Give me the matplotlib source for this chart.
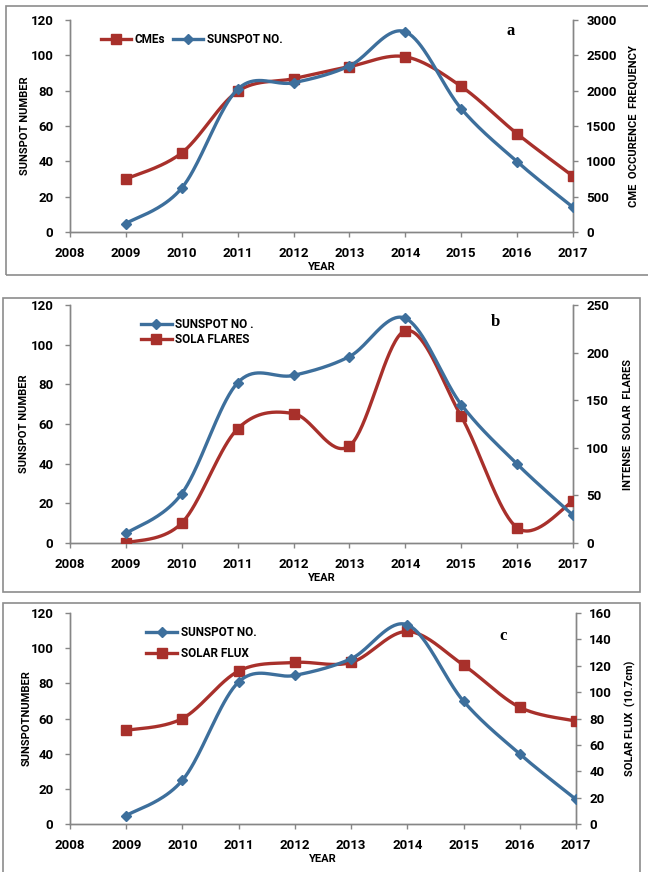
import numpy as np
import matplotlib
matplotlib.use('Agg')
import matplotlib.pyplot as plt
from matplotlib.lines import Line2D
from matplotlib.patches import Rectangle

# Jahreswerte
years = [2009, 2010, 2011, 2012, 2013, 2014, 2015, 2016, 2017]
sunspot = [4.8, 24.9, 80.8, 84.5, 94.0, 113.3, 69.8, 39.8, 14.0]
cmes = [750, 1120, 1990, 2170, 2340, 2480, 2060, 1390, 790]
flares = [0, 21, 120, 136, 102, 223, 133, 16, 44]
flux = [71, 80, 116, 122.5, 122.5, 146, 120.5, 88.5, 78]

year_ticks = list(range(2008, 2018))

W, H = 648, 872
BLUE = '#3d6f9c'
RED = '#a8302b'
GRAY = '#868686'
FONT = 'Roboto'

plt.rcParams['font.family'] = FONT
plt.rcParams['font.weight'] = 'bold'
plt.rcParams['axes.labelweight'] = 'bold'


def smooth(x, y, n=40):
    # geglättete Linie wie bei Excel (Catmull-Rom als Bezier)
    x = np.asarray(x, float)
    y = np.asarray(y, float)
    px = np.concatenate([[x[0]], x, [x[-1]]])
    py = np.concatenate([[y[0]], y, [y[-1]]])
    t = np.linspace(0, 1, n)[:, None]
    out = []
    for i in range(len(x) - 1):
        p0 = np.array([px[i], py[i]])
        p1 = np.array([px[i + 1], py[i + 1]])
        p2 = np.array([px[i + 2], py[i + 2]])
        p3 = np.array([px[i + 3], py[i + 3]])
        c1 = p1 + (p2 - p0) / 6
        c2 = p2 - (p3 - p1) / 6
        seg = ((1 - t) ** 3) * p1 + 3 * ((1 - t) ** 2) * t * c1 + 3 * (1 - t) * t ** 2 * c2 + t ** 3 * p2
        out.append(seg)
    pts = np.vstack(out)
    return pts[:, 0], pts[:, 1]


def fig_box(x0, y0, x1, y1):
    # Pixelangaben (oben links) in Figure-Koordinaten
    return [x0 / W, 1 - y1 / H, (x1 - x0) / W, (y1 - y0) / H]


def style_axis(ax):
    ax.spines['top'].set_visible(False)
    for s in ['left', 'right', 'bottom']:
        ax.spines[s].set_color(GRAY)
        ax.spines[s].set_linewidth(1)
    ax.tick_params(colors=GRAY, labelcolor='black', length=3.5, width=1,
                   labelsize=9.5, direction='out')
    for lab in ax.get_xticklabels() + ax.get_yticklabels():
        lab.set_fontweight('bold')


def draw_series(ax, y, color, marker, ms, zorder):
    sx, sy = smooth(years, y)
    ax.plot(sx, sy, color=color, lw=2.4, zorder=zorder, solid_capstyle='round')
    ax.plot(years, y, linestyle='none', marker=marker, color=color, ms=ms,
            zorder=zorder + 1)


def panel(box, y2, y2max, y2step, y2label, color2, marker2, ms2, letter, letter_xy,
          left_label, left_x, right_x):
    ax = fig.add_axes(fig_box(*box))
    ax.patch.set_alpha(0)
    ax.set_xlim(2008, 2017)
    ax.set_ylim(0, 120)
    ax.set_xticks(year_ticks)
    ax.set_yticks(range(0, 121, 20))
    style_axis(ax)
    ax.tick_params(axis='x', pad=7)
    ax.tick_params(axis='y', pad=8.5)
    ax.set_xlabel('YEAR', fontsize=8, labelpad=2, fontweight='bold')
    width = box[2] - box[0]
    lab = ax.set_ylabel(left_label, fontsize=8, fontweight='bold', va='center')
    ax.yaxis.set_label_coords((left_x - box[0]) / width, 0.5)

    ax2 = ax.twinx()
    ax2.set_ylim(0, y2max)
    ax2.set_yticks(np.arange(0, y2max + 1, y2step))
    style_axis(ax2)
    ax2.tick_params(axis='y', pad=6)
    ax2.set_ylabel(y2label, fontsize=8, fontweight='bold', va='center')
    ax2.yaxis.set_label_coords((right_x - box[0]) / width, 0.5)

    draw_series(ax2, y2, color2, marker2, ms2, 3)
    draw_series(ax2, np.array(sunspot) * y2max / 120, BLUE, 'D', 5, 5)

    fig.text(letter_xy[0] / W, 1 - letter_xy[1] / H, letter, family='Liberation Serif',
             fontsize=12, fontweight='bold', ha='center', va='center')
    return ax


fig = plt.figure(figsize=(W / 100, H / 100), dpi=100)

# Rahmen um die drei Diagramme
for x0, y0, x1, y1 in [(6, 6, 652, 275), (3, 298, 640, 592), (3, 603, 640, 890)]:
    fig.patches.append(Rectangle((x0 / W, 1 - y1 / H), (x1 - x0) / W, (y1 - y0) / H,
                                 transform=fig.transFigure, fill=False,
                                 edgecolor='#8c8c8c', lw=1.2))

h_sun = Line2D([], [], color=BLUE, lw=2.4, marker='D', ms=5)
leg_font = {'size': 8.5, 'weight': 'bold'}

# a) CMEs
ax_a = panel((70, 20, 573, 232), cmes, 3000, 500, 'CME  OCCURENCE  FREQUENCY',
             RED, 's', 7, 'a', (511, 31), 'SUNSPOT NUMBER', 25, 634)
h_cme = Line2D([], [], color=RED, lw=2.4, marker='s', ms=7)
ax_a.legend([h_cme, h_sun], ['CMEs', 'SUNSPOT NO.'], ncol=2, frameon=False,
            loc='upper left', bbox_to_anchor=(0.04, 0.99), prop=leg_font,
            handlelength=2.6, handletextpad=0.3, columnspacing=0.6)

# b) Flares
ax_b = panel((70, 305, 573, 543), flares, 250, 50, 'INTENSE  SOLAR  FLARES',
             RED, 's', 7, 'b', (495, 322), 'SUNSPOT NUMBER', 24, 628)
h_fl = Line2D([], [], color=RED, lw=2.4, marker='s', ms=7)
ax_b.legend([h_sun, h_fl], ['SUNSPOT NO .', 'SOLA FLARES'], frameon=False,
            loc='upper left', bbox_to_anchor=(0.12, 0.99), prop=leg_font,
            handlelength=2.6, handletextpad=0.3, labelspacing=0.2)

# c) Solarer Radiofluss
ax_c = panel((70, 613, 576, 824), flux, 160, 20, 'SOLAR FLUX  (10.7cm)',
             RED, 's', 7, 'c', (503, 636), 'SUNSPOTNUMBER', 27, 630)
h_fx = Line2D([], [], color=RED, lw=2.4, marker='s', ms=7)
ax_c.legend([h_sun, h_fx], ['SUNSPOT NO.', 'SOLAR FLUX'], frameon=False,
            loc='upper left', bbox_to_anchor=(0.13, 0.99), prop=leg_font,
            handlelength=2.6, handletextpad=0.3, labelspacing=0.7)

fig.savefig('out.png', dpi=100)
